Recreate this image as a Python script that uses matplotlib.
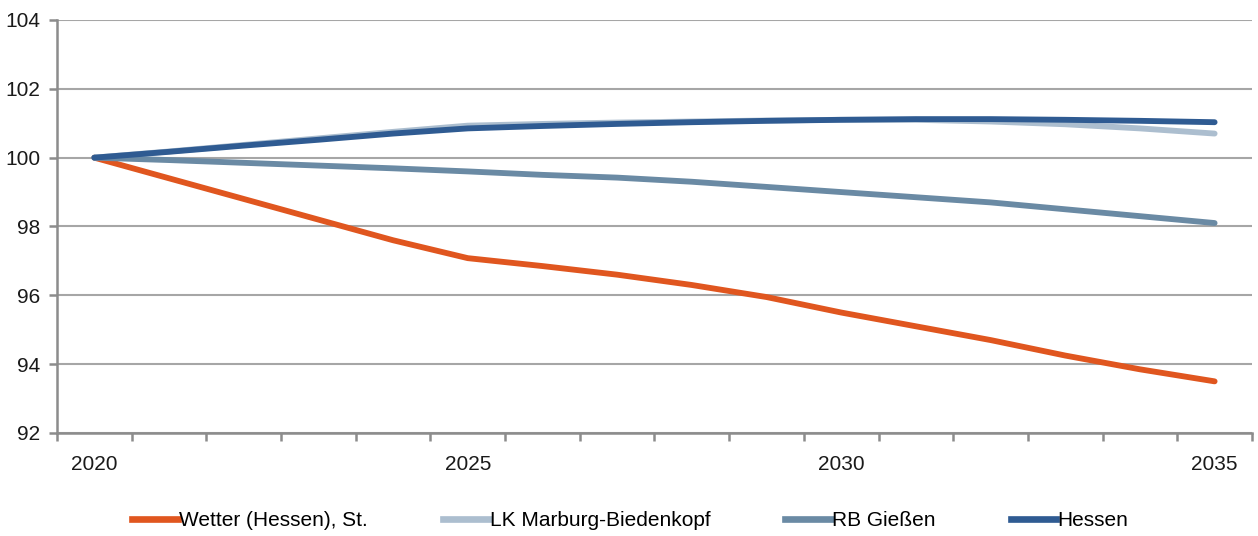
import numpy as np
import matplotlib
matplotlib.use("Agg")
import matplotlib.pyplot as plt
from matplotlib.lines import Line2D

years = list(range(2020, 2036))
year_labels = ["2020", "2025", "2030", "2035"]
label_years = [2020, 2025, 2030, 2035]

wetter = [100.0, 99.4, 98.8, 98.2, 97.6, 97.08, 96.85, 96.6, 96.3, 95.95,
          95.5, 95.1, 94.7, 94.25, 93.85, 93.5]
lk_marburg = [100.0, 100.18, 100.37, 100.56, 100.75, 100.93, 100.98, 101.02,
              101.05, 101.08, 101.1, 101.1, 101.05, 100.97, 100.85, 100.7]
rb_giessen = [100.0, 99.93, 99.85, 99.77, 99.69, 99.6, 99.5, 99.42, 99.3,
              99.15, 99.0, 98.85, 98.7, 98.5, 98.3, 98.1]
hessen = [100.0, 100.17, 100.35, 100.52, 100.7, 100.85, 100.92, 100.98,
          101.03, 101.07, 101.1, 101.12, 101.12, 101.1, 101.07, 101.03]

series_names = ["Wetter (Hessen), St.", "LK Marburg-Biedenkopf", "RB Gießen", "Hessen"]
series_values = [wetter, lk_marburg, rb_giessen, hessen]
colors = ["#E0561F", "#ACBECF", "#6A8AA4", "#2F5B92"]

fam = ["Liberation Sans Narrow", "Liberation Sans", "DejaVu Sans"]
plt.rcParams["font.family"] = fam
fs = 15

fig = plt.figure(figsize=(12.58, 5.36), dpi=100)
ax = fig.add_axes([0.0453, 0.1922, 0.9499, 0.7705])

x = np.arange(len(years))
for name, vals, c in zip(series_names, series_values, colors):
    ax.plot(x, vals, color=c, lw=4.2, solid_capstyle="round",
            solid_joinstyle="round", label=name)

ax.set_xlim(-0.5, len(years) - 0.5)
ax.set_ylim(92, 104)
ax.set_yticks(np.arange(92, 105, 2))
ax.set_yticklabels([str(v) for v in range(92, 105, 2)], fontsize=fs, color="#1a1a1a")
ax.yaxis.grid(True, color="#A6A6A6", lw=1.5)
ax.set_axisbelow(True)

ax.set_xticks([years.index(y) for y in label_years])
ax.set_xticklabels(year_labels, fontsize=fs, color="#1a1a1a")
ax.set_xticks(np.arange(-0.5, len(years)), minor=True)
ax.tick_params(axis="x", which="major", length=0, pad=16)
ax.tick_params(axis="x", which="minor", length=6, width=1.8, color="#8C8C8C")
ax.tick_params(axis="y", which="major", length=6, width=1.8, color="#8C8C8C", pad=6)

for s in ["top", "right"]:
    ax.spines[s].set_visible(False)
for s in ["left", "bottom"]:
    ax.spines[s].set_color("#8C8C8C")
    ax.spines[s].set_linewidth(1.8)

handles = [Line2D([0], [0], color=c, lw=4.8) for c in colors]
fig.legend(handles, series_names, loc="center", bbox_to_anchor=(0.501, 0.028),
           ncol=4, frameon=False, fontsize=fs, handlelength=2.2,
           handletextpad=0.05, columnspacing=3.6)

fig.savefig("out.png", dpi=100)
